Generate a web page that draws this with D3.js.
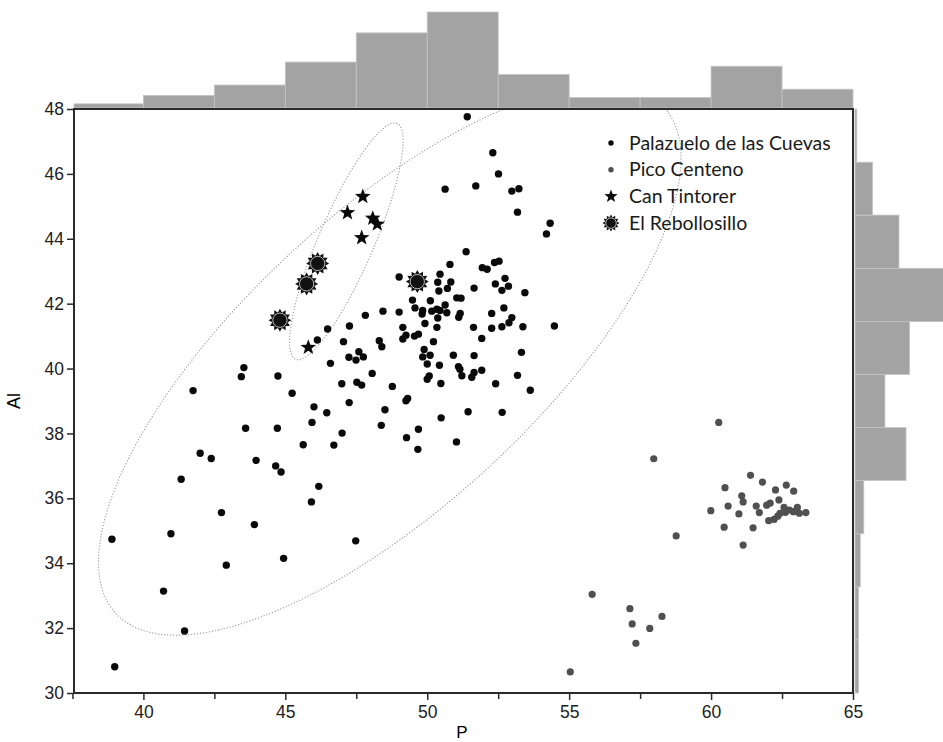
<!DOCTYPE html>
<html>
<head>
<meta charset="utf-8">
<script src="https://cdn.jsdelivr.net/npm/d3@7"></script>
<style>
  body { margin: 0; background: #fff; }
  svg { display: block; }
  .tick text { font-family: "Liberation Sans", Arial, sans-serif; font-size: 17.5px; fill: #222; }
</style>
</head>
<body>
<svg width="943" height="742"></svg>
<script>
// ---- data ----
// Palazuelo de las Cuevas [P, Al]
const palazuelo = [
  [46.49,41.22],[46.13,40.88],[46.59,40.16],[43.54,40.03],[43.45,39.75],[44.74,39.77],[41.75,39.32],[45.24,39.24],[46.01,38.82],
  [51.41,47.76],[52.31,46.65],[52.51,46.0],[50.63,45.53],[51.71,45.63],[52.98,45.47],[53.23,45.54],[53.18,44.82],[54.33,44.48],[54.2,44.15],
  [51.37,43.6],[50.8,43.21],[51.94,43.11],[52.11,43.06],[52.37,43.27],[52.53,43.31],[49.01,42.82],[50.45,42.91],[50.37,42.66],[50.83,42.67],
  [50.71,42.47],[50.41,42.39],[51.65,42.48],[52.4,42.61],[52.74,42.78],[52.86,42.54],[52.63,42.41],[53.44,42.34],[49.48,42.11],[50.11,42.09],
  [50.63,41.96],[51.04,42.18],[51.19,42.17],[49.57,41.87],[49.84,41.79],[49.82,41.68],[50.16,41.77],[50.34,41.83],[50.45,41.79],[50.69,41.72],
  [50.37,41.56],[51.16,41.7],[51.11,41.58],[52.27,41.7],[52.7,41.87],[52.98,41.57],[52.88,41.41],[48.44,41.77],[47.82,41.64],[49.01,41.74],
  [47.26,41.31],[49.14,41.27],[49.92,41.39],[50.34,41.27],[51.63,41.27],[52.27,41.24],[52.63,41.29],[53.37,41.29],[54.48,41.31],
  [47.05,40.83],[48.31,40.86],[48.4,40.67],[49.14,40.91],[49.25,41.03],[49.55,41.0],[49.69,41.06],[50.22,40.83],[51.92,40.93],
  [47.24,40.35],[47.59,40.52],[47.49,40.26],[47.75,40.36],[49.89,40.59],[49.84,40.36],[50.1,40.41],[50.0,40.14],[50.92,40.41],[51.65,40.4],
  [50.43,40.1],[51.1,40.06],[51.15,39.98],[51.22,39.78],[51.65,39.88],[51.57,39.73],[51.92,39.95],[53.32,40.5],[48.06,39.85],
  [46.99,39.53],[47.52,39.58],[47.69,39.49],[48.77,39.45],[50.07,39.77],[50.0,39.67],[50.48,39.54],[52.41,39.53],[53.18,39.79],[53.63,39.33],
  [47.25,38.95],[49.31,39.08],[49.25,39.01],[48.51,38.73],[51.44,38.67],[52.64,38.65],[50.49,38.48],[48.38,38.25],[47.0,38.01],[49.69,38.13],
  [49.27,37.87],[46.71,37.64],[51.03,37.74],[49.67,37.51],[46.46,38.64],[43.6,38.16],[44.72,38.16],[45.94,38.34],[45.63,37.65],
  [42.0,37.39],[42.39,37.23],[43.97,37.17],[44.66,37.0],[44.85,36.81],[41.33,36.59],[46.18,36.37],[45.92,35.89],[42.75,35.56],[43.91,35.19],
  [40.97,34.91],[38.89,34.74],[44.94,34.15],[42.92,33.94],[40.71,33.14],[41.45,31.91],[38.99,30.81],[47.48,34.69]
];
// Pico Centeno
const picoCenteno = [
  [60.27,38.34],[57.98,37.22],[61.39,36.71],[61.81,36.5],[60.49,36.33],[62.65,36.41],[62.27,36.26],[62.91,36.22],[61.08,36.08],[61.13,35.89],
  [62.39,35.95],[61.96,35.79],[62.08,35.85],[60.6,35.76],[61.59,35.76],[59.99,35.62],[60.98,35.52],[61.7,35.56],[62.57,35.72],[63.04,35.72],
  [62.43,35.54],[62.62,35.57],[62.9,35.59],[63.11,35.54],[63.34,35.56],[62.35,35.45],[62.22,35.35],[62.03,35.31],[62.76,35.64],[60.46,35.11],
  [61.48,35.09],[61.13,34.56],[58.77,34.84],[55.81,33.04],[57.14,32.6],[58.27,32.36],[57.22,32.13],[57.84,31.99],[57.35,31.53],[55.04,30.65]
];
// Can Tintorer
const canTintorer = [[47.73,45.3],[47.19,44.8],[48.08,44.63],[48.24,44.45],[47.69,44.03],[45.81,40.65]];
// El Rebollosillo
const rebollosillo = [[46.14,43.24],[45.75,42.61],[44.81,41.49],[49.65,42.68]];

const seriesNames = ["Palazuelo de las Cuevas", "Pico Centeno", "Can Tintorer", "El Rebollosillo"];

// ticks
const xTicks = [40, 45, 50, 55, 60, 65];
const xMinorTicks = [37.5, 42.5, 47.5, 52.5, 57.5, 62.5];
const yTicks = [30, 32, 34, 36, 38, 40, 42, 44, 46, 48];

// marginal histograms (counts)
const pBinEdges = [37.5, 40, 42.5, 45, 47.5, 50, 52.5, 55, 57.5, 60, 62.5, 65];
const pCounts = [2, 6, 11, 22, 36, 46, 16, 5, 5, 20, 9];
const alBinEdges = [30, 31.64, 33.27, 34.91, 36.55, 38.18, 39.82, 41.45, 43.09, 44.73, 46.36, 48];
const alCounts = [2, 2, 3, 5, 29, 17, 31, 54, 25, 10, 1];

// confidence ellipses: centre + two conjugate half-axis vectors (data units)
const ellipseBig = { c: [48.68, 40.26], v1: [9.65, 7.81], v2: [3.49, -3.30] };
const ellipseSmall = { c: [47.15, 43.92], v1: [-1.70, -3.65], v2: [1.057, 0] };

// ---- layout ----
const plot = { left: 74, right: 853, top: 109, bottom: 693 };
const svg = d3.select("svg");

const x = d3.scaleLinear().domain([37.555, 65]).range([plot.left, plot.right]);
const y = d3.scaleLinear().domain([30, 48]).range([plot.bottom, plot.top]);

// top histogram
const hTop = d3.scaleLinear().domain([0, 46]).range([0, 96]);
const xc = x.copy().clamp(true);
svg.append("g").selectAll("rect")
  .data(pCounts)
  .enter().append("rect")
  .attr("x", (d, i) => xc(pBinEdges[i]))
  .attr("width", (d, i) => xc(pBinEdges[i + 1]) - xc(pBinEdges[i]))
  .attr("y", d => plot.top - 1 - hTop(d))
  .attr("height", d => hTop(d))
  .attr("fill", "#a3a3a3")
  .attr("stroke", "#c4c4c4")
  .attr("stroke-width", 0.8);

// right histogram
const wRight = d3.scaleLinear().domain([0, 54]).range([0, 95]);
svg.append("g").selectAll("rect")
  .data(alCounts)
  .enter().append("rect")
  .attr("x", plot.right + 2)
  .attr("y", (d, i) => y(alBinEdges[i + 1]))
  .attr("height", (d, i) => y(alBinEdges[i]) - y(alBinEdges[i + 1]))
  .attr("width", d => wRight(d))
  .attr("fill", "#a3a3a3")
  .attr("stroke", "#c4c4c4")
  .attr("stroke-width", 0.8);

// clip for the plot
svg.append("clipPath").attr("id", "plotclip")
  .append("rect")
  .attr("x", plot.left).attr("y", plot.top)
  .attr("width", plot.right - plot.left).attr("height", plot.bottom - plot.top);

// ellipses
function ellipsePath(e) {
  const pts = d3.range(0, 361, 3).map(a => {
    const t = a * Math.PI / 180;
    return [x(e.c[0] + e.v1[0] * Math.cos(t) + e.v2[0] * Math.sin(t)),
            y(e.c[1] + e.v1[1] * Math.cos(t) + e.v2[1] * Math.sin(t))];
  });
  return d3.line().curve(d3.curveCardinalClosed)(pts.slice(0, -1));
}
const eg = svg.append("g").attr("clip-path", "url(#plotclip)");
[ellipseBig, ellipseSmall].forEach(e => {
  eg.append("path")
    .attr("d", ellipsePath(e))
    .attr("fill", "none")
    .attr("stroke", "#9a9a9a")
    .attr("stroke-width", 1.1)
    .attr("stroke-dasharray", "1.2,1.8");
});

// marker shapes
function starPath(R, r, n) {
  const pts = d3.range(n * 2).map(i => {
    const a = -Math.PI / 2 + i * Math.PI / n;
    const rad = i % 2 === 0 ? R : r;
    return [rad * Math.cos(a), rad * Math.sin(a)];
  });
  return "M" + pts.map(p => p.join(",")).join("L") + "Z";
}

function drawSunburst(g, R) {
  g.append("path").attr("d", starPath(R, R * 0.7, 12)).attr("fill", "#111");
  g.append("circle").attr("r", R * 0.62).attr("fill", "#111")
    .attr("stroke", "#fff").attr("stroke-width", 0.7);
}

// points
const pg = svg.append("g");
pg.selectAll("circle.pal")
  .data(palazuelo).enter().append("circle")
  .attr("class", "pal")
  .attr("cx", d => x(d[0])).attr("cy", d => y(d[1]))
  .attr("r", 3.7).attr("fill", "#0a0a0a");

pg.selectAll("circle.pico")
  .data(picoCenteno).enter().append("circle")
  .attr("class", "pico")
  .attr("cx", d => x(d[0])).attr("cy", d => y(d[1]))
  .attr("r", 3.6).attr("fill", "#505050");

pg.selectAll("path.star")
  .data(canTintorer).enter().append("path")
  .attr("class", "star")
  .attr("transform", d => `translate(${x(d[0])},${y(d[1])})`)
  .attr("d", starPath(8.2, 3.4, 5))
  .attr("fill", "#0a0a0a");

rebollosillo.forEach(d => {
  drawSunburst(pg.append("g").attr("transform", `translate(${x(d[0])},${y(d[1])})`), 11.5);
});

// axes
svg.append("g")
  .attr("transform", `translate(0,${plot.bottom})`)
  .call(d3.axisBottom(x).tickValues(xTicks).tickSize(7).tickPadding(6));
svg.append("g")
  .attr("transform", `translate(0,${plot.bottom})`)
  .call(d3.axisBottom(x).tickValues(xMinorTicks).tickSize(6).tickFormat(""));
svg.append("g")
  .attr("transform", `translate(${plot.left},0)`)
  .call(d3.axisLeft(y).tickValues(yTicks).tickSize(7).tickPadding(3));
svg.selectAll(".domain").remove();
svg.selectAll(".tick line").attr("stroke", "#2a2a2a").attr("stroke-width", 1.5);

// frame
svg.append("rect")
  .attr("x", plot.left).attr("y", plot.top)
  .attr("width", plot.right - plot.left).attr("height", plot.bottom - plot.top)
  .attr("fill", "none").attr("stroke", "#2a2a2a").attr("stroke-width", 2);

// axis titles
svg.append("text")
  .attr("x", 462).attr("y", 738)
  .attr("text-anchor", "middle")
  .style("font-family", "Liberation Sans, Arial, sans-serif").style("font-size", "17px")
  .text("P");
svg.append("text")
  .attr("transform", "translate(20,401) rotate(-90)")
  .attr("text-anchor", "middle")
  .style("font-family", "Liberation Sans, Arial, sans-serif").style("font-size", "18px")
  .text("Al");

// legend
const legend = svg.append("g").attr("transform", "translate(611,143)");
const rowH = 26.7;
seriesNames.forEach((name, i) => {
  const row = legend.append("g").attr("transform", `translate(0,${i * rowH})`);
  if (i === 0) row.append("circle").attr("r", 2.7).attr("fill", "#0a0a0a");
  if (i === 1) row.append("circle").attr("r", 2.7).attr("fill", "#505050");
  if (i === 2) row.append("path").attr("d", starPath(7, 2.9, 5)).attr("fill", "#0a0a0a");
  if (i === 3) drawSunburst(row, 8.5);
  row.append("text")
    .attr("x", 18).attr("y", 6.5)
    .style("font-family", "Lato, 'Open Sans', sans-serif").style("font-size", "19.5px")
    .attr("fill", "#1a1a1a")
    .text(name);
});
</script>
</body>
</html>
